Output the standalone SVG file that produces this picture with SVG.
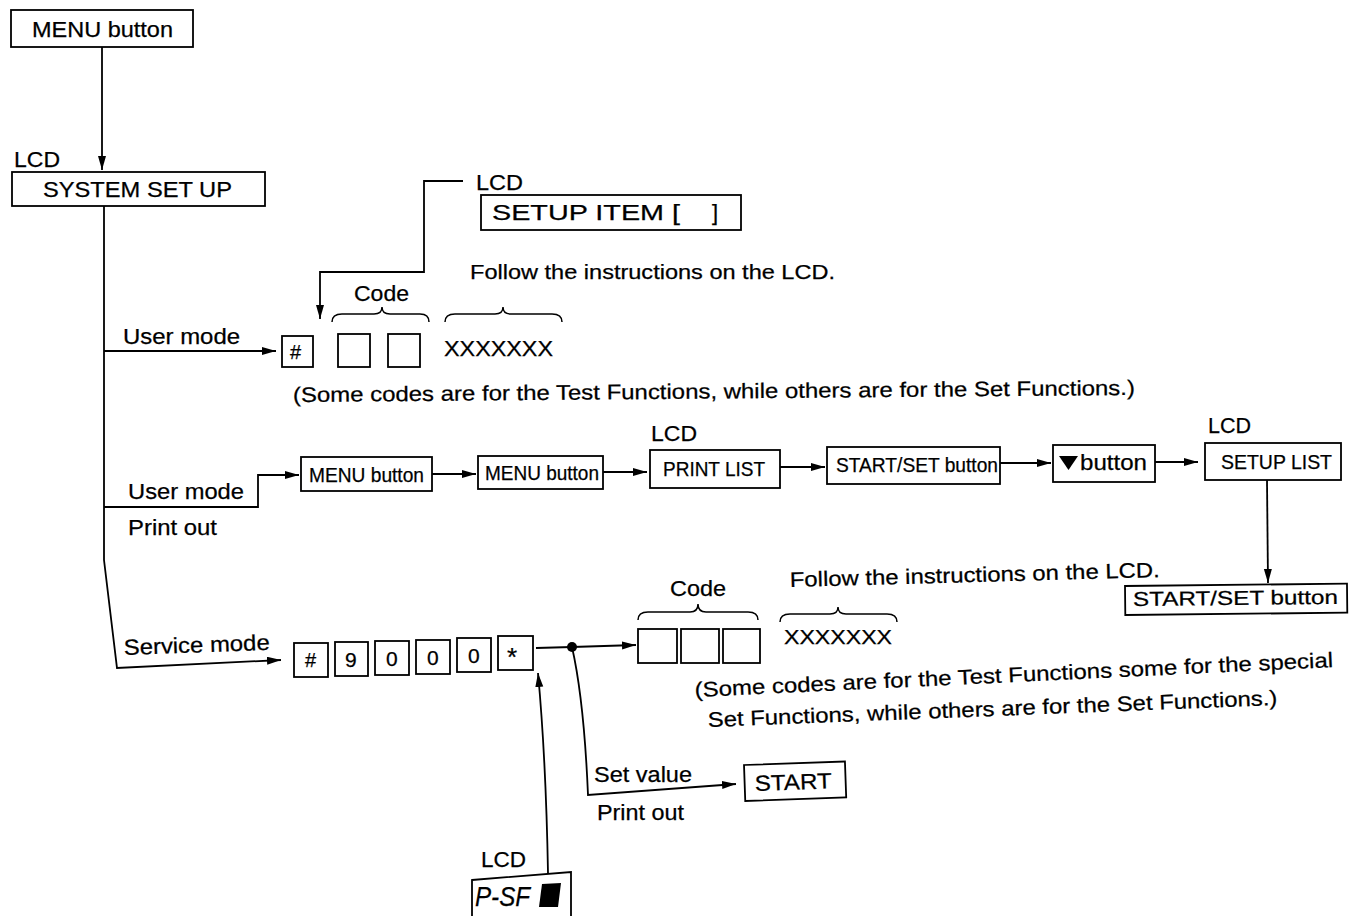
<svg xmlns="http://www.w3.org/2000/svg" width="1358" height="916" viewBox="0 0 1358 916">
<style>
text{font-family:"Liberation Sans",Arial,sans-serif;fill:#000;font-size:22px;stroke:#000;stroke-width:0.25}
.s19{font-size:21px}
.s18{font-size:20px}
.box{fill:#fff;stroke:#000;stroke-width:1.8}
.ln{fill:none;stroke:#000;stroke-width:1.8}
.br{fill:none;stroke:#000;stroke-width:1.5}
</style>
<defs>
<marker id="ah" markerUnits="userSpaceOnUse" markerWidth="16" markerHeight="10" refX="14" refY="4" orient="auto">
<path d="M0,0 L14,4 L0,8 z" fill="#000"/>
</marker>
</defs>
<rect width="1358" height="916" fill="#fff"/>

<g id="connectors">
<path class="ln" d="M102,47 L102,170" marker-end="url(#ah)"/>
<path class="ln" d="M104,206 L104,560 L117,668 L281,660" marker-end="url(#ah)"/>
<path class="ln" d="M104,351 L276,351" marker-end="url(#ah)"/>
<path class="ln" d="M104,507 L258,507 L258,475 L299,475" marker-end="url(#ah)"/>
<path class="ln" d="M463,181 L424,181 L424,272 L320,272 L320,319" marker-end="url(#ah)"/>
<path class="ln" d="M432,474 L476,474" marker-end="url(#ah)"/>
<path class="ln" d="M603,472 L647,472" marker-end="url(#ah)"/>
<path class="ln" d="M780,467 L825,467" marker-end="url(#ah)"/>
<path class="ln" d="M1000,463 L1051,463" marker-end="url(#ah)"/>
<path class="ln" d="M1155,462 L1198,462" marker-end="url(#ah)"/>
<path class="ln" d="M1267,480 L1268,583" marker-end="url(#ah)"/>
<path class="ln" d="M536,648 L572,647 L636,645" marker-end="url(#ah)"/>
<circle cx="572" cy="647" r="5" fill="#000"/>
<path class="ln" d="M572,647 Q584,700 588,795 L736,784" marker-end="url(#ah)"/>
<path class="ln" d="M548,873 Q546,760 538,673" marker-end="url(#ah)"/>
</g>

<g id="menu-button">
<rect class="box" x="11" y="10" width="182" height="37"/>
<text x="32" y="37" textLength="141" lengthAdjust="spacingAndGlyphs">MENU button</text>
</g>

<g id="system-set-up">
<text x="14" y="167" textLength="46" lengthAdjust="spacingAndGlyphs">LCD</text>
<rect class="box" x="12" y="172" width="253" height="34"/>
<text x="43" y="197" textLength="189" lengthAdjust="spacingAndGlyphs">SYSTEM SET UP</text>
</g>

<g id="setup-item">
<text x="476" y="190" textLength="47" lengthAdjust="spacingAndGlyphs">LCD</text>
<rect class="box" x="481" y="195" width="260" height="35"/>
<text x="492" y="220" textLength="188" lengthAdjust="spacingAndGlyphs">SETUP ITEM [</text>
<text x="712" y="220">]</text>
</g>

<g id="user-mode-codes">
<text class="s19" x="470" y="279" textLength="365" lengthAdjust="spacingAndGlyphs">Follow the instructions on the LCD.</text>
<text x="354" y="301" textLength="55" lengthAdjust="spacingAndGlyphs">Code</text>
<path class="br" d="M332,322 Q332,314 342,314 L374,314 Q382,314 382,307 Q382,314 390,314 L420,314 Q429,314 429,322"/>
<path class="br" d="M445,322 Q445,314 455,314 L495,314 Q503,314 503,307 Q503,314 511,314 L552,314 Q562,314 562,322"/>
<text x="123" y="344" textLength="117" lengthAdjust="spacingAndGlyphs">User mode</text>
<rect class="box" x="282" y="336" width="31" height="31"/>
<text x="290" y="359" class="s18">#</text>
<rect class="box" x="338" y="334" width="32" height="33"/>
<rect class="box" x="388" y="334" width="32" height="33"/>
<text x="444" y="356" textLength="109" lengthAdjust="spacingAndGlyphs">XXXXXXX</text>
<text class="s19" x="293" y="402" transform="rotate(-0.48 293 402)" textLength="842" lengthAdjust="spacingAndGlyphs">(Some codes are for the Test Functions, while others are for the Set Functions.)</text>
</g>

<g id="user-mode-print">
<text x="128" y="499" textLength="116" lengthAdjust="spacingAndGlyphs">User mode</text>
<text x="128" y="535" textLength="89" lengthAdjust="spacingAndGlyphs">Print out</text>
</g>

<g id="menu-button-1">
<rect class="box" x="301" y="457" width="131" height="34"/>
<text class="s19" x="309" y="482" textLength="115" lengthAdjust="spacingAndGlyphs">MENU button</text>
</g>
<g id="menu-button-2">
<rect class="box" x="478" y="456" width="125" height="33"/>
<text class="s19" x="485" y="480" textLength="114" lengthAdjust="spacingAndGlyphs">MENU button</text>
</g>
<g id="print-list">
<text x="651" y="441" textLength="46" lengthAdjust="spacingAndGlyphs">LCD</text>
<rect class="box" x="650" y="450" width="130" height="38"/>
<text class="s19" x="663" y="476" textLength="102" lengthAdjust="spacingAndGlyphs">PRINT LIST</text>
</g>
<g id="start-set-button-1">
<rect class="box" x="827" y="447" width="173" height="37"/>
<text class="s19" x="836" y="472" textLength="162" lengthAdjust="spacingAndGlyphs">START/SET button</text>
</g>
<g id="down-button">
<rect class="box" x="1053" y="445" width="102" height="37"/>
<path d="M1059,456 L1078,456 L1068.5,470 z" fill="#000"/>
<text x="1080" y="470" textLength="67" lengthAdjust="spacingAndGlyphs">button</text>
</g>
<g id="setup-list">
<text x="1208" y="433" textLength="43" lengthAdjust="spacingAndGlyphs">LCD</text>
<rect class="box" x="1205" y="443" width="136" height="37"/>
<text class="s19" x="1221" y="469" textLength="111" lengthAdjust="spacingAndGlyphs">SETUP LIST</text>
</g>
<g id="start-set-button-2">
<rect class="box" x="1125" y="586" width="222" height="29" transform="rotate(-0.6 1125 586)"/>
<text class="s18" x="1133" y="606" transform="rotate(-0.6 1133 606)" textLength="205" lengthAdjust="spacingAndGlyphs">START/SET button</text>
</g>

<g id="service-mode">
<text x="124" y="655" transform="rotate(-2 124 655)" textLength="146" lengthAdjust="spacingAndGlyphs">Service mode</text>
<rect class="box" x="294" y="643" width="34" height="34"/>
<text class="s18" x="305" y="667">#</text>
<rect class="box" x="335" y="642" width="33" height="34"/>
<text class="s19" x="345" y="667">9</text>
<rect class="box" x="375" y="641" width="34" height="34"/>
<text class="s19" x="386" y="666">0</text>
<rect class="box" x="416" y="640" width="34" height="34"/>
<text class="s19" x="427" y="665">0</text>
<rect class="box" x="457" y="638" width="34" height="34"/>
<text class="s19" x="468" y="663">0</text>
<rect class="box" x="498" y="636" width="35" height="34"/>
<text x="507" y="666" style="font-size:26px">*</text>
</g>

<g id="service-codes">
<text class="s19" x="790" y="587" transform="rotate(-1.55 790 587)" textLength="370" lengthAdjust="spacingAndGlyphs">Follow the instructions on the LCD.</text>
<text x="670" y="596" textLength="56" lengthAdjust="spacingAndGlyphs">Code</text>
<path class="br" d="M638,620 Q638,612 648,612 L690,612 Q698,612 698,604 Q698,612 706,612 L748,612 Q758,612 758,620"/>
<path class="br" d="M780,622 Q780,614 790,614 L830,614 Q838,614 838,607 Q838,614 846,614 L887,614 Q897,614 897,622"/>
<rect class="box" x="638" y="629" width="39" height="34"/>
<rect class="box" x="681" y="629" width="38" height="34"/>
<rect class="box" x="723" y="629" width="37" height="34"/>
<text class="s19" x="784" y="644" textLength="108" lengthAdjust="spacingAndGlyphs">XXXXXXX</text>
<text class="s19" x="695" y="697" transform="rotate(-2.69 695 697)" textLength="639" lengthAdjust="spacingAndGlyphs">(Some codes are for the Test Functions some for the special</text>
<text class="s19" x="708" y="727" transform="rotate(-2.21 708 727)" textLength="570" lengthAdjust="spacingAndGlyphs">Set Functions, while others are for the Set Functions.)</text>
</g>

<g id="start">
<text x="594" y="782" textLength="98" lengthAdjust="spacingAndGlyphs">Set value</text>
<text x="597" y="820" textLength="87" lengthAdjust="spacingAndGlyphs">Print out</text>
<rect class="box" x="744" y="765" width="101" height="36" transform="rotate(-2 744 765)"/>
<text x="755" y="791" transform="rotate(-2 755 791)" textLength="77" lengthAdjust="spacingAndGlyphs">START</text>
</g>

<g id="p-sf">
<text x="481" y="867" textLength="45" lengthAdjust="spacingAndGlyphs">LCD</text>
<path class="box" d="M472,880 L571,872 L571,920 L472,920 z"/>
<text x="475" y="906" style="font-size:27px;font-style:italic" textLength="55" lengthAdjust="spacingAndGlyphs">P-SF</text>
<path d="M542,884 L561,883 L558,907 L539,907 z" fill="#000"/>
</g>
</svg>
